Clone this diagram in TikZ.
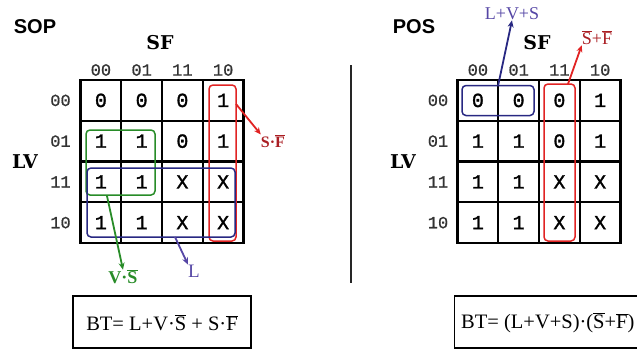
\documentclass[tikz,border=0pt]{standalone}
\usepackage{fontspec}
\setmainfont{Liberation Serif}
\newfontfamily\cellfont[FakeBold=1.5]{Liberation Mono}
\newfontfamily\labfont[FakeBold=0.8]{Liberation Mono}
\newfontfamily\headfont{Liberation Sans}
\newfontfamily\varfont{DejaVu Serif}
\usetikzlibrary{arrows.meta}
\definecolor{kred}{RGB}{225,35,35}
\definecolor{kgreen}{RGB}{40,140,40}
\definecolor{kblue}{RGB}{40,40,130}
\definecolor{lred}{RGB}{170,30,35}
\definecolor{lblue}{RGB}{85,70,165}
\newcommand{\ob}[1]{\ensuremath{\overline{\hbox{#1}}}}
\begin{document}
\begin{tikzpicture}[x=1pt,y=-1pt,
  cell/.style={draw=black,line width=2.2pt,minimum width=40.75pt,minimum height=40.75pt,inner sep=0pt,font=\cellfont\fontsize{20}{20}\selectfont},
  clab/.style={font=\labfont\fontsize{17}{17}\selectfont,text=black!80,inner sep=0pt},
  var/.style={font=\varfont\bfseries\fontsize{19}{19}\selectfont,inner sep=0pt},
  head/.style={font=\headfont\bfseries\fontsize{20}{20}\selectfont,inner sep=0pt},
  grp/.style={draw=#1,line width=1.5pt,rounded corners=4pt,inner sep=0pt},
  arr/.style={draw=#1,line width=1.8pt,-{Stealth[length=7pt,width=6pt]}},
  formbox/.style={draw=black,line width=1.4pt,inner sep=0pt},
  form/.style={font=\fontsize{20.5}{20.5}\selectfont,inner sep=0pt}
]
\useasboundingbox (0,0) rectangle (637,351);
\clip (0,0) rectangle (637,351);
% ---------- SOP ----------
\node[head] (sop) at (35,27) {SOP};
\node[var] (sfL) at (160,43) {SF};
\node[var] (lvL) at (25,162) {LV};
\foreach \lab [count=\i from 0] in {00,01,11,10}{
  \node[clab] (lc\i) at (100.9+40.75*\i,70) {\lab};
  \node[clab] (lr\i) at (60.5,100.4+40.75*\i) {\lab};
}
\foreach \r/\row in {0/{0,0,0,1},1/{1,1,0,1},2/{1,1,X,X},3/{1,1,X,X}}{
  \foreach \v [count=\c from 0] in \row{
    \node[cell] (L\r\c) at (100.9+40.75*\c,100.4+40.75*\r) {\v};
  }
}
\node[grp=kred,minimum width=27pt,minimum height=156pt] (redL) at (222.5,163) {};
\node[grp=kgreen,minimum width=69pt,minimum height=65pt] (greenL) at (120.5,162.5) {};
\node[grp=kblue,minimum width=148pt,minimum height=69pt] (blueL) at (161,202.5) {};
\coordinate (redLs) at (236,104);
\coordinate (greenLs) at (107,196);
\coordinate (blueLs) at (175,237);
\node[font=\bfseries\fontsize{16}{16}\selectfont,text=lred,inner sep=0pt] (sfbar) at (273,141) {S·\ob{F}};
\node[font=\bfseries\fontsize{18}{18}\selectfont,text=kgreen,inner sep=0pt] (vsbar) at (123,277) {V·\ob{S}};
\node[font=\fontsize{19}{19}\selectfont,text=lblue,inner sep=0pt] (lL) at (194,271) {L};
\draw[arr=kred] (redLs) -- (sfbar.north west);
\draw[arr=kgreen] (greenLs) -- (vsbar.north);
\draw[arr=lblue] (blueLs) -- (lL.north west);
\node[formbox,minimum width=178pt,minimum height=52pt] (boxL) at (162,322) {};
\node[form] (eqL) at (162,323) {BT= L+V·\ob{S} + S·\ob{F}};
% ---------- divider ----------
\coordinate (dtop) at (351,65);
\coordinate (dbot) at (351,283);
\draw[line width=1.3pt,black!85] (dtop) -- (dbot);
% ---------- POS ----------
\node[head] (pos) at (414,27) {POS};
\node[var] (sfR) at (537,43) {SF};
\node[var] (lvR) at (403,162) {LV};
\foreach \lab [count=\i from 0] in {00,01,11,10}{
  \node[clab] (rc\i) at (477.9+40.75*\i,70) {\lab};
  \node[clab] (rr\i) at (438,100.4+40.75*\i) {\lab};
}
\foreach \r/\row in {0/{0,0,0,1},1/{1,1,0,1},2/{1,1,X,X},3/{1,1,X,X}}{
  \foreach \v [count=\c from 0] in \row{
    \node[cell] (R\r\c) at (477.9+40.75*\c,100.4+40.75*\r) {\v};
  }
}
\node[grp=kblue,minimum width=72pt,minimum height=30pt] (blueR) at (498,100.5) {};
\node[grp=kred,minimum width=31pt,minimum height=157pt] (redR) at (559.5,162.5) {};
\coordinate (blueRs) at (498,86);
\coordinate (redRs) at (568,84);
\node[font=\fontsize{18}{18}\selectfont,text=lblue,inner sep=0pt] (lvs) at (512,14) {L+V+S};
\node[font=\fontsize{18}{18}\selectfont,text=lred,inner sep=0pt] (sfsum) at (597,38) {\ob{S}+\ob{F}};
\draw[arr=kblue] (blueRs) -- (lvs.south);
\draw[arr=kred] (redRs) -- (sfsum.south west);
\node[formbox,minimum width=220pt,minimum height=52pt,anchor=west] (boxR) at (454,322) {};
\node[form,anchor=west] (eqR) at (461,323) {BT= (L+V+S)·(\ob{S}+\ob{F})};
\end{tikzpicture}
\end{document}
